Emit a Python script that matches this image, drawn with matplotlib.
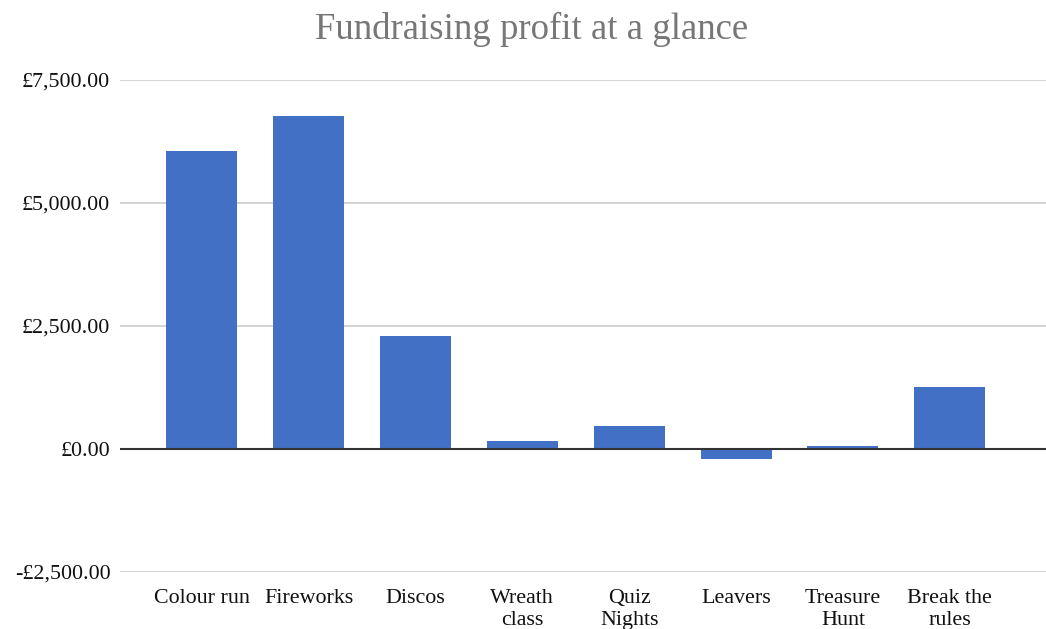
import numpy as np
import matplotlib.pyplot as plt
import matplotlib as mpl
from matplotlib.ticker import FuncFormatter

mpl.rcParams['font.family'] = 'Liberation Serif'

categories = ['Colour run', 'Fireworks', 'Discos', 'Wreath\nclass', 'Quiz\nNights',
              'Leavers', 'Treasure\nHunt', 'Break the\nrules']
profit = [6050, 6770, 2300, 165, 460, -200, 55, 1255]
yticks = [-2500, 0, 2500, 5000, 7500]

def money(v, pos=None):
    if v < 0:
        return '-\u00a3{:,.2f}'.format(-v)
    return '\u00a3{:,.2f}'.format(v)

fig = plt.figure(figsize=(10.46, 6.29), dpi=100)
ax = fig.add_axes([0.1147, 0.0906, 0.8853, 0.7822])

x = np.arange(len(categories))
ax.bar(x, profit, width=0.665, color='#4270c4', zorder=3)

ax.set_ylim(-2500, 7500)
ax.set_xlim(-0.765, 7.90)
ax.set_yticks(yticks)
ax.yaxis.set_major_formatter(FuncFormatter(money))
ax.set_xticks(x)
ax.set_xticklabels(categories, linespacing=1.25)

ax.grid(axis='y', color='#cccccc', linewidth=1.2, zorder=0)
ax.axhline(0, color='#333333', linewidth=1.5, zorder=4)

for s in ax.spines.values():
    s.set_visible(False)
ax.tick_params(axis='both', length=0, labelsize=15.8, labelcolor='#111111')
ax.tick_params(axis='y', pad=7)
ax.tick_params(axis='x', pad=12)

fig.text(0.508, 0.953, 'Fundraising profit at a glance', ha='center', va='center',
         fontsize=26.5, color='#777777')

fig.savefig('out.png', dpi=100)
